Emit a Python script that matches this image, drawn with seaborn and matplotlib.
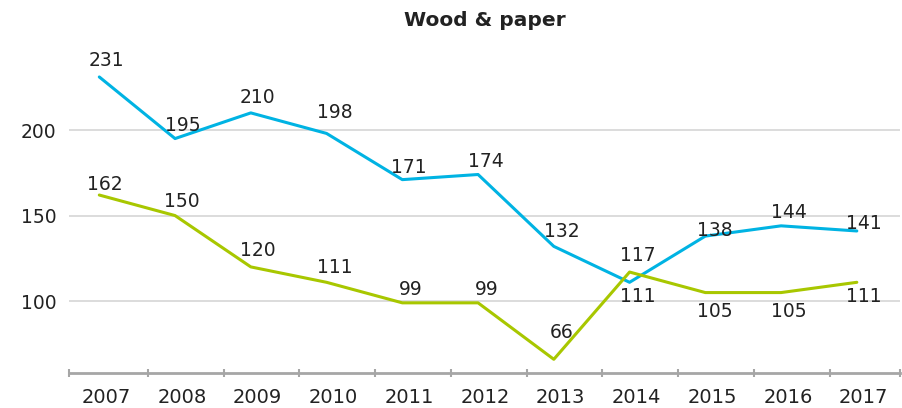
import matplotlib
matplotlib.use("Agg")
import matplotlib.pyplot as plt
import numpy as np
import pandas as pd
import seaborn as sns

years = ["2007", "2008", "2009", "2010", "2011", "2012", "2013", "2014", "2015", "2016", "2017"]
blue_values = [231, 195, 210, 198, 171, 174, 132, 111, 138, 144, 141]
green_values = [162, 150, 120, 111, 99, 99, 66, 117, 105, 105, 111]
y_ticks = [100, 150, 200]
title = "Wood & paper"

# label offsets in pixels (dx, dy) relative to each point
blue_offsets = [(7, 16), (8, 13), (7, 15), (8, 21), (7, 12), (8, 13), (8, 15), (8, -14), (9, 6), (8, 13), (7, 7)]
green_offsets = [(6, 11), (7, 14), (7, 16), (8, 15), (8, 13), (9, 13), (8, 27), (8, 17), (9, -19), (8, -19), (7, -14)]

BLUE = "#00b3e3"
GREEN = "#a8c700"
TEXT = "#222222"
GREY = "#a6a6a6"

sns.set_theme(style="white")
plt.rcParams["font.family"] = ["DejaVu Sans"]

pos = np.arange(len(years))
df = pd.DataFrame({
    "pos": np.concatenate([pos, pos]),
    "value": blue_values + green_values,
    "series": ["blue"] * len(years) + ["green"] * len(years),
})

fig = plt.figure(figsize=(9.02, 4.08), dpi=100)
W, H = 902, 408
left, right, bottom, top = 69, 900, 373, 40
ax = fig.add_axes([left / W, 1 - bottom / H, (right - left) / W, (bottom - top) / H])

sns.lineplot(data=df, x="pos", y="value", hue="series",
             palette={"blue": BLUE, "green": GREEN}, linewidth=2.2,
             legend=False, ax=ax, zorder=3)

ax.set_xlim(-0.40, 10.57)
ax.set_ylim(58, 252.6)

# grid and axes
ax.set_yticks(y_ticks)
ax.set_yticklabels([str(v) for v in y_ticks], fontsize=13.5, color=TEXT)
ax.yaxis.grid(True, color="#d6d6d6", linewidth=1.2)
ax.xaxis.grid(False)
ax.tick_params(axis="y", length=0, pad=9)

for s in ["top", "right", "left"]:
    ax.spines[s].set_visible(False)
ax.spines["bottom"].set_color(GREY)
ax.spines["bottom"].set_linewidth(2)

ax.set_xticks(pos + 0.09)
ax.set_xticklabels(years, fontsize=14, color=TEXT)
ax.set_xticks([-0.40] + list(pos[:-1] + 0.64) + [10.57], minor=True)
ax.tick_params(axis="x", which="major", bottom=True, length=0, pad=11)
ax.tick_params(axis="x", which="minor", bottom=True, direction="inout",
               length=6, width=1.5, color=GREY)
ax.set_xlabel("")
ax.set_ylabel("")

# value labels
for vals, offs in ((blue_values, blue_offsets), (green_values, green_offsets)):
    for x, v, (dx, dy) in zip(pos, vals, offs):
        ax.annotate(str(v), (x, v), xytext=(dx, dy), textcoords="offset pixels",
                    ha="center", va="center", fontsize=13.5, color=TEXT, zorder=4)

fig.text((left + right) / 2 / W, 1 - 21 / H, title, ha="center", va="center",
         fontsize=14.5, fontweight="bold", color=TEXT)

fig.savefig("out.png", dpi=100)
